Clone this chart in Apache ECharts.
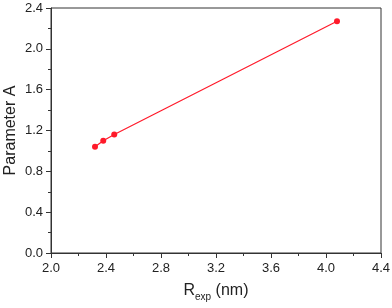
<!DOCTYPE html>
<html><head><meta charset="utf-8">
<script src="https://cdn.jsdelivr.net/npm/echarts@6/dist/echarts.min.js"></script>
<style>html,body{margin:0;padding:0;background:#fff}#c{width:392px;height:308px}</style>
</head><body><div id="c"></div>
<script>
const xValues = [2.32, 2.38, 2.46, 4.08];
const yValues = [1.04, 1.10, 1.16, 2.27];
const xTicks = [2.0, 2.4, 2.8, 3.2, 3.6, 4.0, 4.4];
const yTicks = [0.0, 0.4, 0.8, 1.2, 1.6, 2.0, 2.4];

const chart = echarts.init(document.getElementById('c'));
const font = 'Liberation Sans, Arial, sans-serif';
const axisColor = '#333';
chart.setOption({
  animation: false,
  grid: {left: 51, right: 11, top: 8, bottom: 55, containLabel: false, outerBoundsMode: 'none',
         show: true, borderColor: axisColor, borderWidth: 1},
  xAxis: {
    type: 'value', min: xTicks[0], max: xTicks[xTicks.length-1], interval: 0.4,
    axisLine: {show: true, onZero: false, lineStyle: {color: axisColor, width: 1}},
    axisTick: {show: true, inside: false, length: 5, lineStyle: {color: axisColor}},
    minorTick: {show: true, splitNumber: 2, length: 3, lineStyle: {color: axisColor}},
    splitLine: {show: false},
    axisLabel: {color: '#222', fontSize: 13, fontFamily: font, margin: 9, formatter: v => v.toFixed(1)},
    name: '{r|R}{s|exp}{r| (nm)}', nameLocation: 'middle', nameGap: 27, nameMoveOverlap: false,
    nameTextStyle: {fontFamily: font, color: '#222', rich: {
      r: {fontSize: 16, fontFamily: font, color: '#222'},
      s: {fontSize: 10, fontFamily: font, color: '#222', padding: [12, 0, 0, 0]}
    }}
  },
  yAxis: {
    type: 'value', min: yTicks[0], max: yTicks[yTicks.length-1], interval: 0.4,
    axisLine: {show: true, onZero: false, lineStyle: {color: axisColor, width: 1}},
    axisTick: {show: true, inside: false, length: 5, lineStyle: {color: axisColor}},
    minorTick: {show: true, splitNumber: 2, length: 3, lineStyle: {color: axisColor}},
    splitLine: {show: false},
    axisLabel: {color: '#222', fontSize: 13, fontFamily: font, margin: 8, formatter: v => v.toFixed(1)},
    name: 'Parameter A', nameLocation: 'middle', nameGap: 32, nameMoveOverlap: false,
    nameTextStyle: {fontSize: 16, fontFamily: font, color: '#222'}
  },
  series: [{
    type: 'line',
    data: xValues.map((x, i) => [x, yValues[i]]),
    symbol: 'circle', symbolSize: 6,
    itemStyle: {color: '#ff1a2a'},
    lineStyle: {color: '#ff1a2a', width: 1.2}
  }]
});
</script></body></html>
